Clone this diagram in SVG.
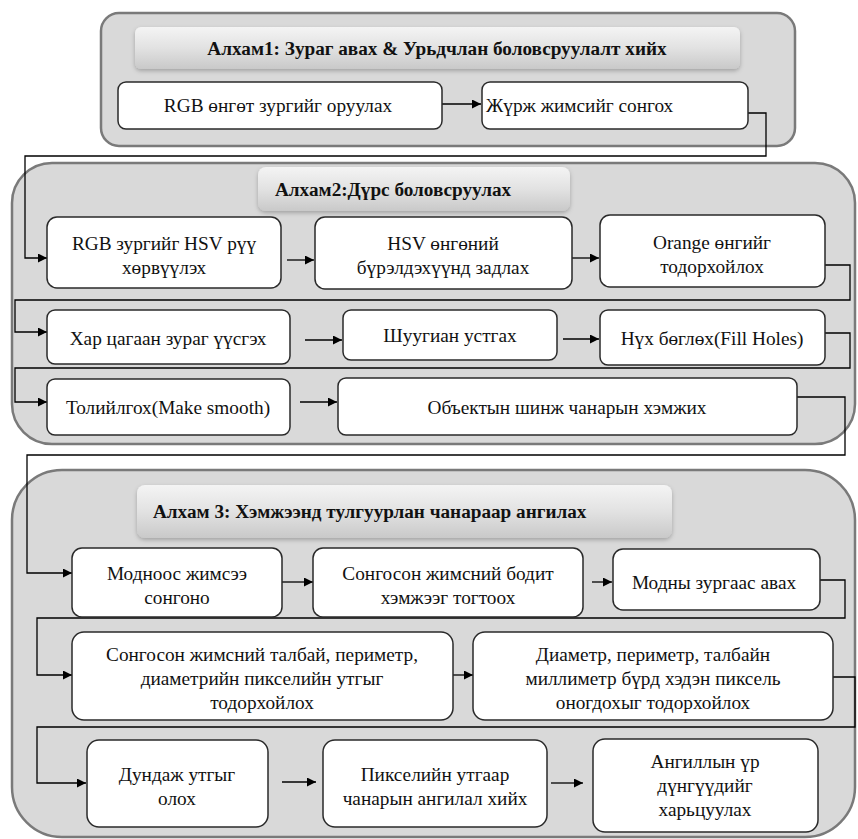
<svg xmlns="http://www.w3.org/2000/svg" width="858" height="839" viewBox="0 0 858 839">
<defs>
<linearGradient id="hg" x1="0" y1="0" x2="0" y2="1">
<stop offset="0" stop-color="#f4f4f4"/>
<stop offset="0.5" stop-color="#e2e2e2"/>
<stop offset="1" stop-color="#c9c9c9"/>
</linearGradient>
<filter id="sh" x="-5%" y="-20%" width="110%" height="150%">
<feDropShadow dx="0" dy="2" stdDeviation="2" flood-color="#000" flood-opacity="0.25"/>
</filter>
<marker id="ah" viewBox="0 0 10 10" refX="10" refY="5" markerWidth="9" markerHeight="9" markerUnits="userSpaceOnUse" orient="auto">
<path d="M0,0 L10,5 L0,10 z" fill="#000"/>
</marker>
</defs>
<style>
.sec{fill:#d9d9d9;stroke:#7a7a7a;stroke-width:2.5}
.hdr{fill:url(#hg);stroke:none;filter:url(#sh)}
.box{fill:#fff;stroke:#2a2a2a;stroke-width:1.5}
text{font-family:'Liberation Serif','Times New Roman','DejaVu Serif',serif}
.t{font-size:19.3px;fill:#111}
.c{text-anchor:middle}
.h{font-size:19.2px;font-weight:bold;fill:#111}
.cn{fill:none;stroke:#000;stroke-width:1.3}
.ar{marker-end:url(#ah)}
</style>

<g id="section1">
<rect class="sec" x="101" y="13" width="694" height="133" rx="18"/>
<rect class="hdr" x="135" y="27" width="605" height="42" rx="6"/>
<text class="h c" x="437" y="55">Алхам1: Зураг авах &amp; Урьдчлан боловсруулалт  хийх</text>
</g>
<g id="section2">
<rect class="sec" x="12" y="163" width="843" height="281" rx="40"/>
<rect class="hdr" x="258" y="167" width="312" height="44" rx="8"/>
<text class="h" x="275" y="196">Алхам2:Дүрс боловсруулах</text>
</g>
<g id="section3">
<rect class="sec" x="12" y="470" width="843" height="367" rx="50"/>
<rect class="hdr" x="137" y="485" width="535" height="53" rx="8"/>
<text class="h" x="153" y="518">Алхам 3: Хэмжээнд тулгуурлан чанараар ангилах</text>
</g>

<g id="connectors">
<line class="cn ar" x1="442" y1="104" x2="481" y2="104"/>
<polyline class="cn ar" points="748,113 766,113 766,156 25,156 25,258 47,258"/>
<line class="cn ar" x1="287" y1="260" x2="314" y2="260"/>
<line class="cn ar" x1="572" y1="258" x2="599" y2="258"/>
<polyline class="cn ar" points="825,265 850,265 850,300 15,300 15,332 47,332"/>
<line class="cn ar" x1="305" y1="340" x2="342" y2="340"/>
<line class="cn ar" x1="563" y1="339" x2="599" y2="339"/>
<polyline class="cn ar" points="825,333 850,333 850,368 15,368 15,402 47,402"/>
<line class="cn ar" x1="300" y1="402" x2="337" y2="402"/>
<polyline class="cn ar" points="797,397 845,397 845,455 27,455 27,573 72,573"/>
<line class="cn ar" x1="282" y1="582" x2="313" y2="582"/>
<line class="cn ar" x1="592" y1="582" x2="612" y2="582"/>
<polyline class="cn ar" points="820,580 845,580 845,618 37,618 37,675 72,675"/>
<line class="cn ar" x1="453" y1="675" x2="473" y2="675"/>
<polyline class="cn ar" points="833,677 855,677 855,727 37,727 37,783 86,783"/>
<line class="cn ar" x1="282" y1="782" x2="316" y2="782"/>
<line class="cn ar" x1="551" y1="783" x2="583" y2="783"/>
</g>

<g id="n1">
<rect class="box" x="118" y="82" width="324" height="47" rx="8"/>
<text class="t c" x="278" y="112">RGB өнгөт зургийг оруулах</text>
</g>
<g id="n2">
<rect class="box" x="482" y="82" width="266" height="47" rx="8"/>
<text class="t" x="486" y="112">Жүрж жимсийг сонгох</text>
</g>

<g id="n3">
<rect class="box" x="47" y="217" width="234" height="71" rx="10"/>
<text class="t c" x="164" y="250">RGB зургийг HSV рүү</text>
<text class="t c" x="164" y="274">хөрвүүлэх</text>
</g>
<g id="n4">
<rect class="box" x="315" y="217" width="257" height="72" rx="10"/>
<text class="t c" x="443" y="250">HSV өнгөний</text>
<text class="t c" x="443" y="274">бүрэлдэхүүнд задлах</text>
</g>
<g id="n5">
<rect class="box" x="600" y="215" width="225" height="72" rx="10"/>
<text class="t c" x="712" y="249">Orange өнгийг</text>
<text class="t c" x="712" y="273">тодорхойлох</text>
</g>
<g id="n6">
<rect class="box" x="47" y="310" width="243" height="54" rx="8"/>
<text class="t c" x="168" y="345">Хар цагаан зураг үүсгэх</text>
</g>
<g id="n7">
<rect class="box" x="343" y="310" width="214" height="50" rx="8"/>
<text class="t c" x="450" y="342">Шуугиан устгах</text>
</g>
<g id="n8">
<rect class="box" x="600" y="310" width="225" height="55" rx="8"/>
<text class="t c" x="712" y="345">Нүх бөглөх(Fill Holes)</text>
</g>
<g id="n9">
<rect class="box" x="47" y="379" width="243" height="56" rx="8"/>
<text class="t c" x="168" y="414">Толийлгох(Make smooth)</text>
</g>
<g id="n10">
<rect class="box" x="338" y="378" width="459" height="57" rx="8"/>
<text class="t c" x="567" y="414">Объектын шинж чанарын хэмжих</text>
</g>

<g id="n11">
<rect class="box" x="72" y="548" width="210" height="69" rx="10"/>
<text class="t c" x="177" y="580">Модноос жимсээ</text>
<text class="t c" x="177" y="604">сонгоно</text>
</g>
<g id="n12">
<rect class="box" x="313" y="548" width="270" height="69" rx="10"/>
<text class="t c" x="448" y="580">Сонгосон жимсний бодит</text>
<text class="t c" x="448" y="604">хэмжээг тогтоох</text>
</g>
<g id="n13">
<rect class="box" x="613" y="549" width="207" height="61" rx="10"/>
<text class="t c" x="714" y="589">Модны зургаас авах</text>
</g>
<g id="n14">
<rect class="box" x="72" y="632" width="381" height="88" rx="12"/>
<text class="t c" x="262" y="661">Сонгосон жимсний талбай, периметр,</text>
<text class="t c" x="262" y="685">диаметрийн пикселийн утгыг</text>
<text class="t c" x="262" y="709">тодорхойлох</text>
</g>
<g id="n15">
<rect class="box" x="473" y="632" width="360" height="88" rx="12"/>
<text class="t c" x="653" y="661">Диаметр, периметр, талбайн</text>
<text class="t c" x="653" y="685">миллиметр бүрд хэдэн пиксель</text>
<text class="t c" x="653" y="709">оногдохыг тодорхойлох</text>
</g>
<g id="n16">
<rect class="box" x="87" y="740" width="181" height="87" rx="12"/>
<text class="t c" x="177" y="781">Дундаж утгыг</text>
<text class="t c" x="177" y="805">олох</text>
</g>
<g id="n17">
<rect class="box" x="323" y="740" width="224" height="87" rx="12"/>
<text class="t c" x="435" y="781">Пикселийн утгаар</text>
<text class="t c" x="435" y="805">чанарын ангилал хийх</text>
</g>
<g id="n18">
<rect class="box" x="593" y="739" width="225" height="93" rx="12"/>
<text class="t c" x="705" y="768">Ангиллын үр</text>
<text class="t c" x="705" y="792">дүнгүүдийг</text>
<text class="t c" x="705" y="816">харьцуулах</text>
</g>
</svg>
